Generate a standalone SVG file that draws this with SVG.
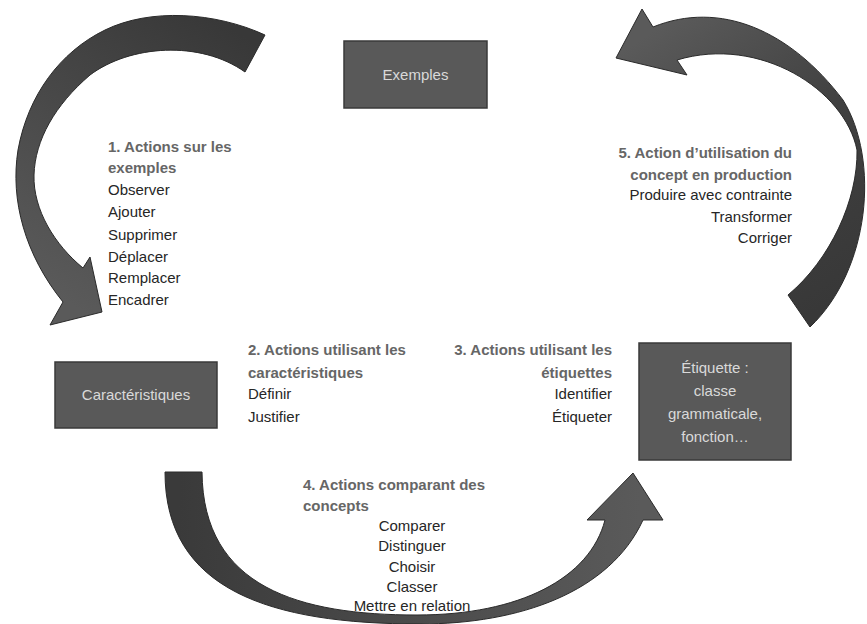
<svg xmlns="http://www.w3.org/2000/svg" width="867" height="624" viewBox="0 0 867 624">
<defs>
<linearGradient id="g1" gradientUnits="userSpaceOnUse" x1="250" y1="40" x2="80" y2="310"><stop offset="0" stop-color="#383838"/><stop offset="1" stop-color="#5a5a5a"/></linearGradient>
<linearGradient id="g5" gradientUnits="userSpaceOnUse" x1="820" y1="310" x2="640" y2="40"><stop offset="0" stop-color="#383838"/><stop offset="0.5" stop-color="#404040"/><stop offset="1" stop-color="#5a5a5a"/></linearGradient>
<linearGradient id="g4" gradientUnits="userSpaceOnUse" x1="180" y1="480" x2="640" y2="500"><stop offset="0" stop-color="#3a3a3a"/><stop offset="1" stop-color="#5a5a5a"/></linearGradient>
</defs>
<style>
.box{fill:#595959;stroke:#3a3a3a;stroke-width:1.5}
.bt{font-family:"Liberation Sans",Arial,sans-serif;font-size:15px;fill:#d9d9d9;text-anchor:middle}
.arr{stroke:#2a2a2a;stroke-width:1;stroke-linejoin:miter}
.t{font-family:"Liberation Sans",Arial,sans-serif;font-size:15px;fill:#262626}
.h{font-weight:bold;fill:#666666}
.r{text-anchor:end}
.c{text-anchor:middle}
</style>
<rect width="867" height="624" fill="#ffffff"/>
<g id="connectors">
<path id="arrow1" class="arr" fill="url(#g1)" d="M265,35 C215,12 150,8 105,30 C60,52 28,95 18,150 C10,200 25,255 63,302 L50,325 L102,312 L90,257 L83,268 C55,245 33,210 34,175 C35,140 55,105 90,75 C130,45 200,40 245,72 Z"/>
<path id="arrow5" class="arr" fill="url(#g5)" d="M788,295 C830,260 858,200 857,150 C845,90 760,35 677,60 L687,75 L616,58 L642,9 L653,27 C720,0 790,30 843,100 C880,160 870,270 810,327 Z"/>
<path id="arrow4" class="arr" fill="url(#g4)" d="M165,472 L202,472 C203,588 300,615 417,615 C520,615 590,578 605,520 L587,520 L633,473 L663,520 L643,520 C610,592 520,624 420,624 C270,624 165,590 165,472 Z"/>
</g>
<g id="node-exemples">
<rect class="box" x="344" y="41" width="143" height="67"/>
<text class="bt" x="415.5" y="80">Exemples</text>
</g>
<g id="node-caracteristiques">
<rect class="box" x="55" y="362" width="162" height="66"/>
<text class="bt" x="136" y="400">Caractéristiques</text>
</g>
<g id="node-etiquette">
<rect class="box" x="639" y="343" width="152" height="117"/>
<text class="bt" x="715" y="373">Étiquette :</text>
<text class="bt" x="715" y="396">classe</text>
<text class="bt" x="715" y="419">grammaticale,</text>
<text class="bt" x="715" y="442">fonction…</text>
</g>
<g id="label1">
<text class="t h" x="108" y="152">1. Actions sur les</text>
<text class="t h" x="108" y="173">exemples</text>
<text class="t" x="108" y="195">Observer</text>
<text class="t" x="108" y="217">Ajouter</text>
<text class="t" x="108" y="240">Supprimer</text>
<text class="t" x="108" y="262">Déplacer</text>
<text class="t" x="108" y="283">Remplacer</text>
<text class="t" x="108" y="305">Encadrer</text>
</g>
<g id="label2">
<text class="t h" x="248" y="355">2. Actions utilisant les</text>
<text class="t h" x="248" y="378">caractéristiques</text>
<text class="t" x="248" y="399">Définir</text>
<text class="t" x="248" y="422">Justifier</text>
</g>
<g id="label3">
<text class="t h r" x="612" y="355">3. Actions utilisant les</text>
<text class="t h r" x="612" y="378">étiquettes</text>
<text class="t r" x="612" y="399">Identifier</text>
<text class="t r" x="612" y="422">Étiqueter</text>
</g>
<g id="label4">
<text class="t h" x="303" y="490">4. Actions comparant des</text>
<text class="t h" x="303" y="511">concepts</text>
<text class="t c" x="412" y="531">Comparer</text>
<text class="t c" x="412" y="551">Distinguer</text>
<text class="t c" x="412" y="572">Choisir</text>
<text class="t c" x="412" y="592">Classer</text>
<text class="t c" x="412" y="611">Mettre en relation</text>
</g>
<g id="label5">
<text class="t h r" x="792" y="158">5. Action d’utilisation du</text>
<text class="t h r" x="792" y="180">concept en production</text>
<text class="t r" x="792" y="200">Produire avec contrainte</text>
<text class="t r" x="792" y="222">Transformer</text>
<text class="t r" x="792" y="243">Corriger</text>
</g>
</svg>
